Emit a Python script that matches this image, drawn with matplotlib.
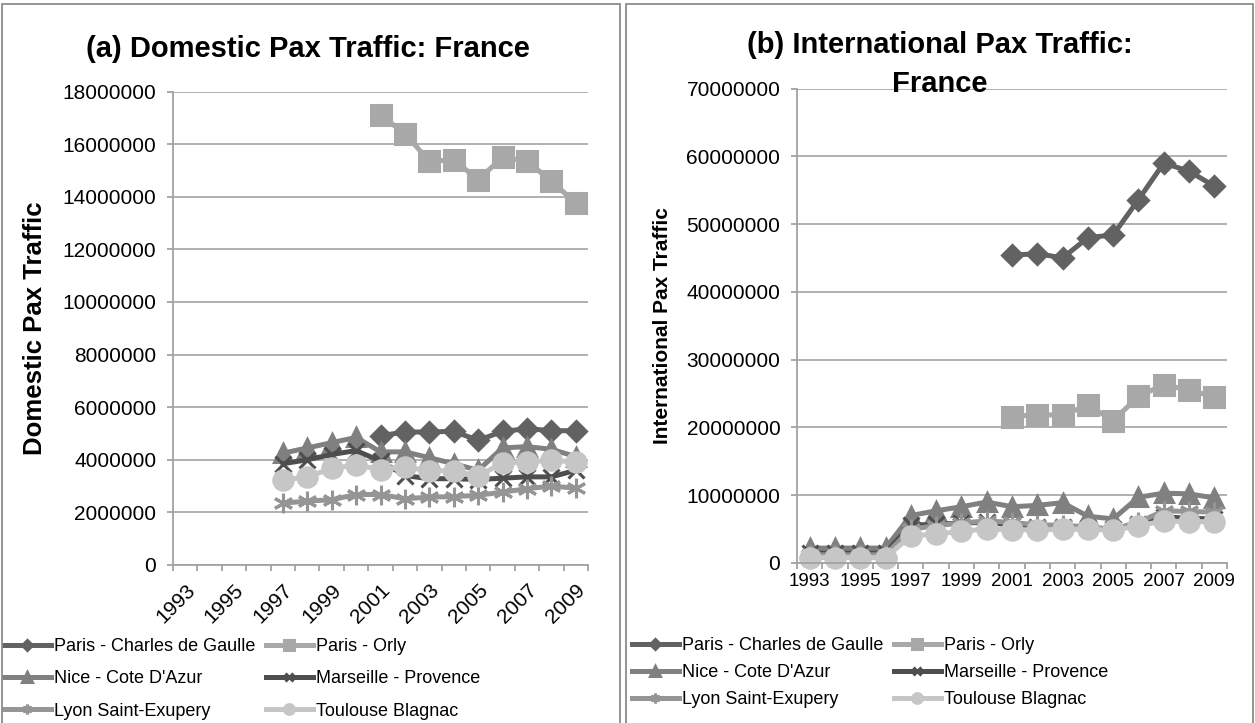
import numpy as np
import matplotlib
matplotlib.use('Agg')
import matplotlib.pyplot as plt
from matplotlib.patches import Rectangle
from matplotlib.ticker import FuncFormatter

plt.rcParams['font.family'] = ['Liberation Sans', 'DejaVu Sans']

na = np.nan
years = list(range(1993, 2010))

# domestic pax traffic
dom_cdg = [na] * 8 + [4920000, 5050000, 5060000, 5080000, 4740000, 5080000, 5180000, 5110000, 5100000]
dom_orly = [na] * 8 + [17100000, 16400000, 15350000, 15400000, 14650000, 15500000, 15350000, 14600000, 13750000]
dom_nice = [na] * 4 + [4250000, 4450000, 4650000, 4850000, 4300000, 4300000, 4080000, 3850000, 3600000,
                       4450000, 4500000, 4400000, 4120000]
dom_mrs = [na] * 4 + [3850000, 4000000, 4200000, 4350000, 3950000, 3400000, 3280000, 3280000, 3250000,
                      3300000, 3350000, 3350000, 3600000]
dom_lyon = [na] * 4 + [2350000, 2430000, 2480000, 2680000, 2680000, 2520000, 2580000, 2600000, 2650000,
                       2770000, 2900000, 3000000, 2920000]
dom_tls = [na] * 4 + [3230000, 3350000, 3670000, 3800000, 3630000, 3720000, 3580000, 3580000, 3380000,
                      3880000, 3920000, 3980000, 3920000]

# international pax traffic
int_cdg = [na] * 8 + [45400000, 45650000, 45000000, 48000000, 48400000, 53600000, 59000000, 57800000, 55600000]
int_orly = [na] * 8 + [21600000, 21900000, 21800000, 23300000, 21000000, 24600000, 26300000, 25500000, 24500000]
int_nice = [2200000, 2200000, 2200000, 2200000, 7000000, 7700000, 8300000, 9000000, 8300000, 8500000,
            8900000, 6900000, 6500000, 9700000, 10300000, 10200000, 9600000]
int_mrs = [1500000, 1500000, 1500000, 1500000, 5600000, 5700000, 5900000, 6000000, 5600000, 5300000,
           5300000, 5200000, 5000000, 5800000, 6800000, 6600000, 6500000]
int_lyon = [1200000, 1200000, 1200000, 1200000, 5000000, 5500000, 5900000, 6200000, 6000000, 5600000,
            5600000, 5300000, 5000000, 6000000, 7700000, 7600000, 7500000]
int_tls = [800000, 800000, 800000, 800000, 4000000, 4250000, 4700000, 5000000, 4900000, 4900000,
           4950000, 5000000, 4800000, 5500000, 6200000, 6100000, 6100000]

names = ['Paris - Charles de Gaulle', 'Paris - Orly', 'Nice - Cote D\'Azur',
         'Marseille - Provence', 'Lyon Saint-Exupery', 'Toulouse Blagnac']
colors = ['#626262', '#a8a8a8', '#808080', '#4e4e4e', '#959595', '#c6c6c6']
markers = ['D', 's', '^', 'x', (6, 2, 0), 'o']
msizes = [10, 14, 13, 12, 14, 14]

W, H = 1255, 723
fig = plt.figure(figsize=(W / 100, H / 100), dpi=100)

# panel frames
for x0, x1 in [(2, 620), (626, 1253)]:
    fig.patches.append(Rectangle((x0 / W, -0.01), (x1 - x0) / W, 1 - 4 / H + 0.01,
                                 transform=fig.transFigure, fill=False,
                                 edgecolor='#8c8c8c', lw=1.3))

gridc = '#a3a3a3'


def setup(ax, ymax, ystep):
    ax.set_xlim(-0.5, 16.5)
    ax.set_ylim(0, ymax)
    ax.set_yticks(np.arange(0, ymax + 1, ystep))
    ax.yaxis.set_major_formatter(FuncFormatter(lambda v, p: '%d' % v))
    ax.grid(axis='y', color=gridc, lw=1.2)
    ax.set_axisbelow(True)
    for s in ['top', 'right']:
        ax.spines[s].set_visible(False)
    for s in ['left', 'bottom']:
        ax.spines[s].set_color(gridc)
        ax.spines[s].set_linewidth(1.3)
    ax.set_xticks(range(0, 17, 2))
    ax.set_xticks(np.arange(-0.5, 17, 1), minor=True)
    ax.tick_params(axis='x', which='major', length=0)
    ax.tick_params(axis='x', which='minor', length=4, color=gridc, width=1.3)
    ax.tick_params(axis='y', length=4, color=gridc, width=1.3, labelsize=15, pad=8)


ax1 = fig.add_axes([173 / W, 1 - 565 / H, 415 / W, (565 - 91.5) / H])
ax2 = fig.add_axes([797 / W, 1 - 563 / H, 430 / W, (563 - 88.5) / H])

x = np.arange(len(years))
for ax, series in [(ax1, [dom_cdg, dom_orly, dom_nice, dom_mrs, dom_lyon, dom_tls]),
                   (ax2, [int_cdg, int_orly, int_nice, int_mrs, int_lyon, int_tls])]:
    for vals, name, c, m, ms in zip(series, names, colors, markers, msizes):
        ax.plot(x, vals, color=c, lw=3.6, marker=m, ms=ms, mew=2.2,
                mec=c, mfc=c, label=name, clip_on=False)

setup(ax1, 18000000, 2000000)
ax1.set_xticklabels([str(y) for y in years[::2]], rotation=45, ha='right', va='top',
                    rotation_mode='anchor', fontsize=15)
ax1.tick_params(axis='x', which='major', pad=11)
ax1.set_ylabel('Domestic Pax Traffic', fontsize=18.5, fontweight='bold')
ax1.yaxis.set_label_coords((47 - 173) / 415, 0.5)

setup(ax2, 70000000, 10000000)
ax2.set_xticklabels([str(y) for y in years[::2]], fontsize=13.5)
ax2.tick_params(axis='x', which='major', pad=7)
ax2.set_ylabel('International Pax Traffic', fontsize=15, fontweight='bold')
ax2.yaxis.set_label_coords((672 - 797) / 430, 0.5)

fig.text(308 / W, 1 - 49 / H, '(a) Domestic Pax Traffic: France', ha='center', va='center',
         fontsize=21, fontweight='bold')
fig.text(940 / W, 1 - 45 / H, '(b) International Pax Traffic:', ha='center', va='center',
         fontsize=21, fontweight='bold')
fig.text(940 / W, 1 - 84 / H, 'France', ha='center', va='center',
         fontsize=21, fontweight='bold')

# legend filled row by row like the original
order = [0, 2, 4, 1, 3, 5]
for ax, x0, top, sp in [(ax1, 4, 638, 0.85), (ax2, 632, 637, 0.55)]:
    h, l = ax.get_legend_handles_labels()
    ax.legend([h[i] for i in order], [l[i] for i in order],
              loc='upper left', bbox_to_anchor=(x0 / W, 1 - top / H),
              bbox_transform=fig.transFigure, ncol=2, frameon=False,
              fontsize=13, handlelength=2.6, handletextpad=0.15,
              columnspacing=0.6, labelspacing=sp, borderaxespad=0,
              borderpad=0, markerscale=0.5, numpoints=1)

fig.savefig('out.png', dpi=100)
